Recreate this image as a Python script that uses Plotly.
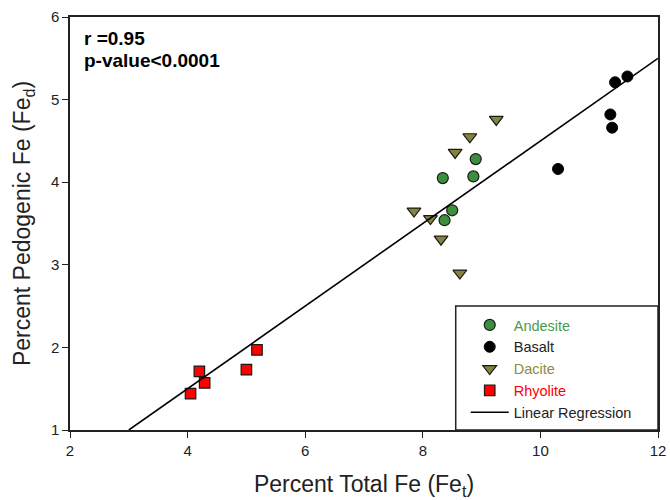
import plotly.graph_objects as go

# Data
andesite_x = [8.90, 8.34, 8.86, 8.50, 8.37]
andesite_y = [4.28, 4.05, 4.07, 3.66, 3.54]

basalt_x = [11.27, 11.48, 11.19, 11.22, 10.30]
basalt_y = [5.21, 5.28, 4.82, 4.66, 4.16]

dacite_x = [9.25, 8.80, 8.55, 7.85, 8.13, 8.31, 8.63]
dacite_y = [4.76, 4.55, 4.36, 3.65, 3.56, 3.31, 2.90]

rhyolite_x = [5.18, 5.00, 4.20, 4.29, 4.05]
rhyolite_y = [1.97, 1.73, 1.71, 1.57, 1.44]

reg_slope = 0.5
reg_intercept = -0.5
reg_x = [(1 - reg_intercept) / reg_slope, 12]
reg_y = [reg_slope * v + reg_intercept for v in reg_x]

x_ticks = [2, 4, 6, 8, 10, 12]
y_ticks = [1, 2, 3, 4, 5, 6]

GREEN = "#3d8f3d"
OLIVE = "#84843c"
FONT = "Liberation Sans, Arial, sans-serif"

fig = go.Figure()
fig.add_trace(go.Scatter(
    x=andesite_x, y=andesite_y, mode="markers",
    name="<span style='color:#4a9a4a'>Andesite</span>",
    marker=dict(symbol="circle", size=11, color=GREEN, line=dict(color="#1a1a1a", width=1.2))))
fig.add_trace(go.Scatter(
    x=basalt_x, y=basalt_y, mode="markers", name="Basalt",
    marker=dict(symbol="circle", size=11, color="black", line=dict(color="black", width=1))))
fig.add_trace(go.Scatter(
    x=dacite_x, y=dacite_y, mode="markers",
    name="<span style='color:#8c8c40'>Dacite</span>",
    marker=dict(symbol="triangle-down", size=12, color=OLIVE, line=dict(color="#1a1a1a", width=1.2))))
fig.add_trace(go.Scatter(
    x=rhyolite_x, y=rhyolite_y, mode="markers",
    name="<span style='color:#ff0000'>Rhyolite</span>",
    marker=dict(symbol="square", size=10.5, color="#ff0000", line=dict(color="#1a1a1a", width=1.2))))
fig.add_trace(go.Scatter(
    x=reg_x, y=reg_y, mode="lines", name="Linear Regression",
    line=dict(color="black", width=1.6)))

# legend frame
fig.add_shape(type="rect", xref="paper", yref="paper",
              x0=0.656, x1=1.0, y0=0.0, y1=0.30,
              line=dict(color="#222", width=1.5), fillcolor="white", layer="below")

fig.add_annotation(x=0.02, y=0.948, xref="paper", yref="paper", xanchor="left", yanchor="middle",
                   text="<b>r =0.95</b>", showarrow=False,
                   font=dict(family=FONT, size=19, color="black"))
fig.add_annotation(x=0.02, y=0.895, xref="paper", yref="paper", xanchor="left", yanchor="middle",
                   text="<b>p-value<0.0001</b>", showarrow=False,
                   font=dict(family=FONT, size=19, color="black"))

axis_common = dict(showgrid=False, zeroline=False, showline=True, linecolor="#222", linewidth=1.5,
                   mirror=True, ticks="outside", ticklen=6, tickwidth=1.2, tickcolor="#222",
                   automargin=False,
                   tickfont=dict(family=FONT, size=15, color="#222"))

fig.update_xaxes(range=[2, 12], tickvals=x_ticks,
                 title=dict(text="Percent Total Fe (Fe<sub>t</sub>)",
                            font=dict(family=FONT, size=23, color="#222"), standoff=23),
                 **axis_common)
fig.update_yaxes(range=[1, 6], tickvals=y_ticks,
                 title=dict(text="Percent Pedogenic Fe (Fe<sub>d</sub>)",
                            font=dict(family=FONT, size=23, color="#222"), standoff=14),
                 **axis_common)

fig.update_layout(
    width=670, height=500,
    margin=dict(l=70, r=12, t=17, b=70, autoexpand=False),
    plot_bgcolor="white", paper_bgcolor="white",
    font=dict(family=FONT, color="#222"),
    legend=dict(x=0.673, y=0.293, xanchor="left", yanchor="top",
                bgcolor="rgba(0,0,0,0)", borderwidth=0,
                font=dict(family=FONT, size=14.5, color="#222"),
                itemwidth=38, tracegroupgap=0),
)

fig.write_html("out.html", config={"displayModeBar": False},
               post_script="document.body.style.margin='0';")
